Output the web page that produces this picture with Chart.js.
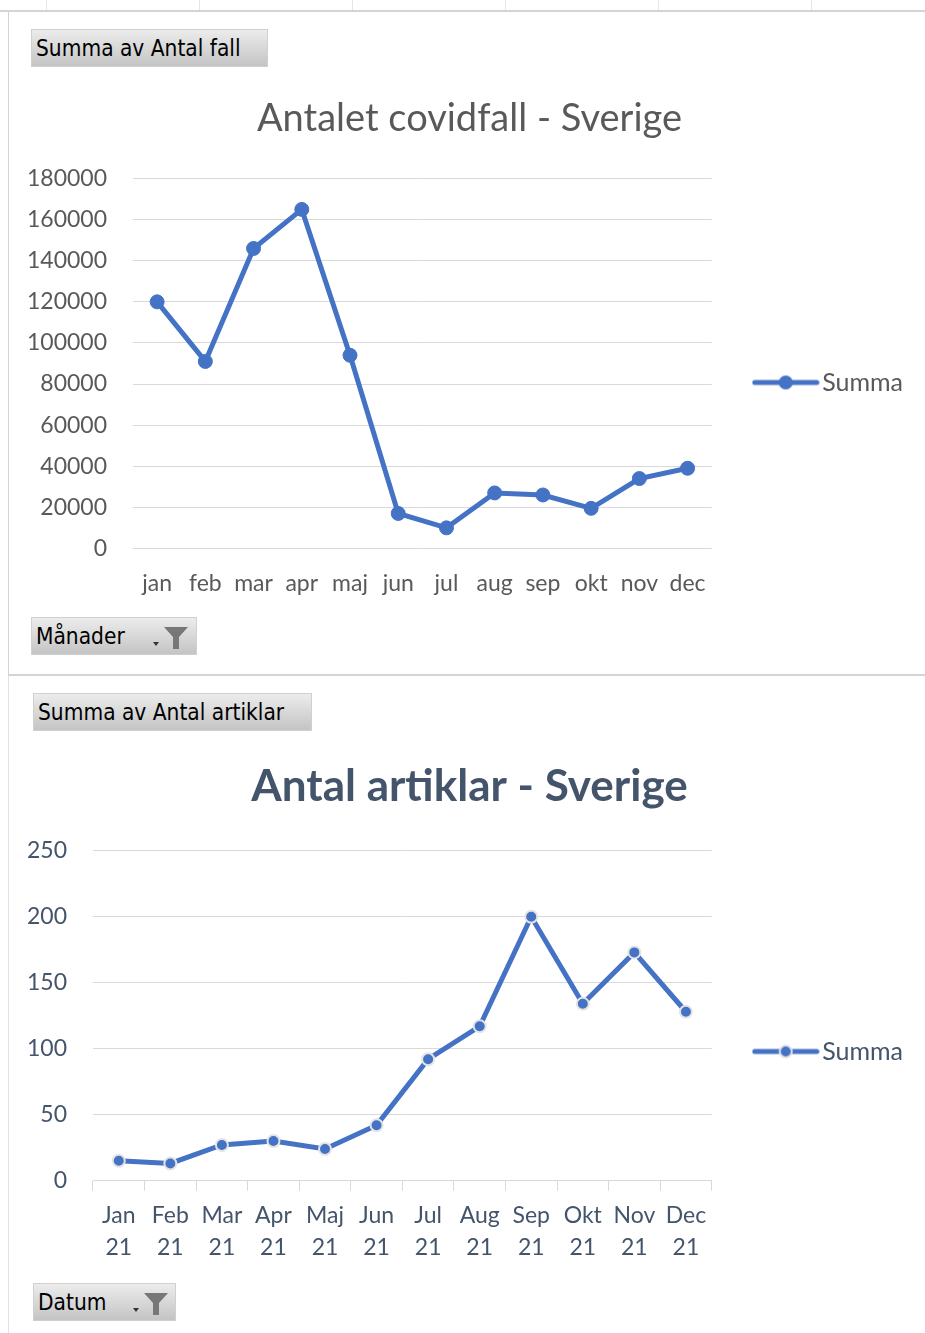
<!DOCTYPE html>
<html>
<head>
<meta charset="utf-8">
<script src="https://cdn.jsdelivr.net/npm/chart.js@4/dist/chart.umd.min.js"></script>
<style>
  body { margin: 0; width: 925px; height: 1333px; background: #fff; position: relative; overflow: hidden; }
  .line { position: absolute; background: #d4d4d4; }
  .btn { position: absolute; height: 38px; box-sizing: border-box; border: 1px solid #d0d0d0; z-index: 2;
         background: linear-gradient(#ececec, #c4c4c4); font-family: "DejaVu Sans Condensed", "DejaVu Sans", sans-serif;
         font-stretch: condensed; font-size: 22.5px; line-height: 36px; padding-left: 4px; color: #000; }
  .btn svg { position: absolute; top: 7px; }
  canvas { position: absolute; left: 8px; }
</style>
</head>
<body>
<div class="line" style="left:0;top:10px;width:925px;height:2px;"></div>
<div class="line" style="left:46px;top:0;width:1px;height:10px;background:#e6e6e6"></div>
<div class="line" style="left:199px;top:0;width:1px;height:10px;background:#e6e6e6"></div>
<div class="line" style="left:352px;top:0;width:1px;height:10px;background:#e6e6e6"></div>
<div class="line" style="left:505px;top:0;width:1px;height:10px;background:#e6e6e6"></div>
<div class="line" style="left:658px;top:0;width:1px;height:10px;background:#e6e6e6"></div>
<div class="line" style="left:811px;top:0;width:1px;height:10px;background:#e6e6e6"></div>
<div class="line" style="left:8px;top:10px;width:1px;height:665px;"></div>
<div class="line" style="left:8px;top:674px;width:917px;height:2px;"></div>
<div class="line" style="left:8px;top:676px;width:1px;height:657px;background:#e2e2e2"></div>

<div class="btn" style="left:31px;top:29px;width:237px;">Summa av Antal fall</div>
<div class="btn" style="left:31px;top:617px;width:166px;">Månader
  <svg style="left:118px" width="40" height="26" viewBox="0 0 40 26"><path d="M3 17 L9 17 L6 21 Z" fill="#333"/><path d="M14 2 L38 2 L29 12 L29 24 L23 24 L23 12 Z" fill="#777"/></svg></div>
<div class="btn" style="left:33px;top:693px;width:279px;">Summa av Antal artiklar</div>
<div class="btn" style="left:33px;top:1283px;width:143px;">Datum
  <svg style="left:96px" width="40" height="26" viewBox="0 0 40 26"><path d="M3 17 L9 17 L6 21 Z" fill="#333"/><path d="M14 2 L38 2 L29 12 L29 24 L23 24 L23 12 Z" fill="#777"/></svg></div>

<canvas id="fall" width="917" height="544" style="top:80px"></canvas>
<canvas id="artiklar" width="917" height="554" style="top:740px"></canvas>

<script>
// antal covidfall per månad
var manader = ['jan', 'feb', 'mar', 'apr', 'maj', 'jun', 'jul', 'aug', 'sep', 'okt', 'nov', 'dec'];
var antalFall = [120000, 91000, 146000, 165000, 94000, 17000, 10000, 27000, 26000, 19500, 34000, 39000];

// antal artiklar per månad
var datum = [['Jan', '21'], ['Feb', '21'], ['Mar', '21'], ['Apr', '21'], ['Maj', '21'], ['Jun', '21'],
             ['Jul', '21'], ['Aug', '21'], ['Sep', '21'], ['Okt', '21'], ['Nov', '21'], ['Dec', '21']];
var antalArtiklar = [15, 13, 27, 30, 24, 42, 92, 117, 200, 134, 173, 128];

var bla = '#4472C4';

// liten bild for legenden: linje med punkt
function legendIcon(ring) {
    var c = document.createElement('canvas');
    c.width = 68; c.height = 18;
    var g = c.getContext('2d');
    g.strokeStyle = bla; g.lineWidth = 5; g.lineCap = 'round';
    g.beginPath(); g.moveTo(3, 9); g.lineTo(65, 9); g.stroke();
    g.beginPath(); g.arc(34, 9, ring ? 6 : 7, 0, Math.PI * 2);
    g.fillStyle = bla; g.fill();
    if (ring) { g.lineWidth = 2; g.strokeStyle = '#e4e4e4'; g.stroke(); }
    return c;
}

function legendOpts(color, ring, shift) {
    var icon = legendIcon(ring);
    return {
        position: 'right', maxWidth: 260,
        // osynlig titel som flyttar ner posten
        title: { display: true, text: ' ', font: { size: 10 }, padding: { top: shift, bottom: 0 } },
        labels: {
            usePointStyle: true, pointStyleWidth: 48, padding: 10, color: color,
            font: { family: 'Lato', size: 25 },
            generateLabels: function (chart) {
                return [{ text: 'Summa', pointStyle: icon, fontColor: color, datasetIndex: 0, hidden: false, lineWidth: 0 }];
            }
        }
    };
}

// tom axel som ger luft mellan diagram och legend
var spacer = {
    position: 'right', display: true,
    grid: { display: false }, border: { display: false }, ticks: { display: false },
    afterFit: function (s) { s.width = 40; }
};

new Chart(document.getElementById('fall'), {
    type: 'line',
    data: {
        labels: manader,
        datasets: [{
            label: 'Summa', data: antalFall,
            borderColor: bla, backgroundColor: bla, borderWidth: 5,
            pointRadius: 7, pointBackgroundColor: bla, pointBorderColor: bla, pointBorderWidth: 1,
            tension: 0, yAxisID: 'y'
        }]
    },
    options: {
        responsive: false, animation: false,
        layout: { padding: { top: 0, right: 12, bottom: 14, left: 18 } },
        plugins: {
            title: { display: true, text: 'Antalet covidfall - Sverige', color: '#595959',
                     font: { family: 'Lato', size: 38, weight: 'normal' }, padding: { top: 16, bottom: 37 } },
            legend: legendOpts('#595959', false, 63),
            tooltip: { enabled: false }
        },
        scales: {
            x: {
                offset: true,
                grid: { display: false }, border: { display: false },
                ticks: { color: '#595959', font: { family: 'Lato', size: 23 }, padding: 13, maxRotation: 0, autoSkip: false }
            },
            y: {
                min: 0, max: 180000,
                grid: { color: '#d9d9d9', drawTicks: false }, border: { display: false },
                ticks: { stepSize: 20000, color: '#595959', font: { family: 'Lato', size: 23 }, padding: 26,
                         callback: function (v) { return String(v); } },
                afterFit: function (s) { s.width = 107; }
            },
            gap: spacer
        }
    }
});

new Chart(document.getElementById('artiklar'), {
    type: 'line',
    data: {
        labels: datum,
        datasets: [{
            label: 'Summa', data: antalArtiklar,
            borderColor: bla, backgroundColor: bla, borderWidth: 5,
            pointRadius: 6, pointBackgroundColor: bla, pointBorderColor: '#e4e4e4', pointBorderWidth: 2,
            tension: 0, yAxisID: 'y'
        }]
    },
    options: {
        responsive: false, animation: false,
        layout: { padding: { top: 0, right: 12, bottom: 21, left: 18 } },
        plugins: {
            title: { display: true, text: 'Antal artiklar - Sverige', color: '#44546A',
                     font: { family: 'Lato', size: 44, weight: 'bold' }, padding: { top: 20, bottom: 38 } },
            legend: legendOpts('#44546A', true, 78),
            tooltip: { enabled: false }
        },
        scales: {
            x: {
                offset: true,
                grid: { display: true, offset: true, drawOnChartArea: false, drawTicks: true, tickLength: 10, color: '#d9d9d9' },
                border: { display: true, color: '#d9d9d9' },
                ticks: { color: '#44546A', font: { family: 'Lato', size: 23, lineHeight: 1.4 }, padding: 9, maxRotation: 0, autoSkip: false }
            },
            y: {
                min: 0, max: 250,
                grid: { color: '#d9d9d9', drawTicks: false }, border: { display: false },
                ticks: { stepSize: 50, color: '#44546A', font: { family: 'Lato', size: 23 }, padding: 26 },
                afterFit: function (s) { s.width = 67; }
            },
            gap: spacer
        }
    }
});
</script>
</body>
</html>
